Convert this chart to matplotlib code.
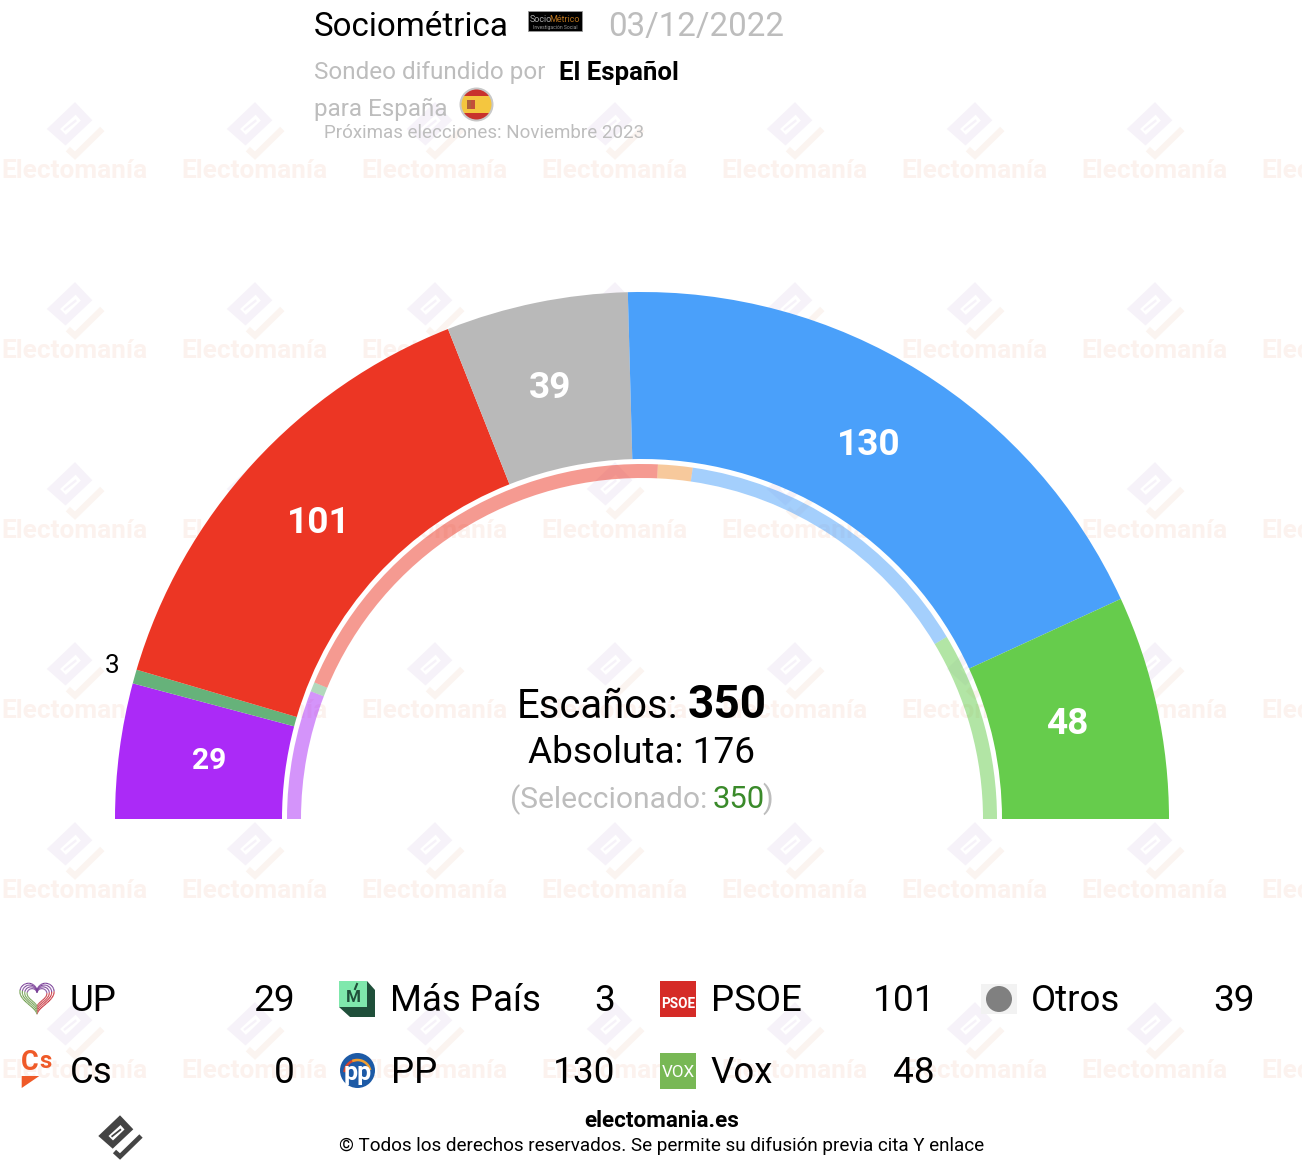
#!/usr/bin/env python
import numpy as np
import matplotlib
matplotlib.use('Agg')
import matplotlib.pyplot as plt
from matplotlib.patches import Circle, Polygon, Rectangle
from matplotlib.collections import LineCollection

plt.rcParams['font.family'] = ['Roboto', 'DejaVu Sans']

# seats, outer arc (left to right)
parties = ['UP', 'Más País', 'PSOE', 'Otros', 'PP', 'Vox']
seats = [29, 3, 101, 39, 130, 48]
colors = ['#ab2af7', '#66b27a', '#ec3624', '#b9b9b9', '#4aa0fa', '#66cc4c']

# inner thin arc
ring_seats = [41, 3, 136, 11, 99, 60]
ring_colors = ['#ab2af7', '#66b27a', '#ec3624', '#f0953a', '#4aa0fa', '#66cc4c']

total_seats = 350
majority = 176
selected = 350

# legend, column by column
legend_names = ['UP', 'Cs', 'Más País', 'PP', 'PSOE', 'Vox', 'Otros']
legend_values = [29, 0, 3, 130, 101, 48, 39]

GREY = '#bdbdbd'
CX, CY = 642, 819

fig = plt.figure(figsize=(13.02, 11.68), dpi=100, facecolor='white')
ax = fig.add_axes([0, 0, 1, 1])


def px(size):
    return size * 0.72


def draw_logo(x, y, scale, body, tick, hole, z):
    pts = np.array([(0, -20.7), (13.3, -6.7), (-7.3, 12.7), (-21.7, 0)]) * scale
    ax.add_patch(Polygon(pts + (x, y), fc=body, ec='none', zorder=z))
    inner = np.array([(0.5, -11), (4.5, -6.5), (-7, 4.5), (-11.5, 0)]) * scale
    ax.add_patch(Polygon(inner + (x, y), fc=hole, ec='none', zorder=z))
    slit = np.array([(0.5, -7.5), (1.5, -6), (-8, 1.5), (-9, 0)]) * scale
    ax.add_patch(Polygon(slit + (x, y), fc=body, ec='none', zorder=z))
    line = np.array([(-5.5, 15.5), (0, 20.5), (21, 0)]) * scale
    ax.plot(line[:, 0] + x, line[:, 1] + y, color=tick, lw=3.4 * scale,
            solid_joinstyle='miter', solid_capstyle='butt', zorder=z)


# background watermark
for wx in range(75, 1400, 180):
    for wy in range(129, 1100, 180):
        draw_logo(wx, wy, 1.3, '#f6f2f9', '#fbf4f0', 'white', 0)
        ax.text(wx - 0.5, wy + 49, 'Electomanía', fontsize=px(26.3), fontweight='bold',
                color='#fcf2ee', ha='center', va='baseline', zorder=0, clip_on=True)

# main arc, the last slice is the hidden lower half
wedges, _ = ax.pie(seats + [total_seats], colors=colors + ['white'], radius=527,
                   center=(CX, CY), startangle=180,
                   wedgeprops=dict(width=167, linewidth=0))
wedges[-1].set_visible(False)

ring, _ = ax.pie(ring_seats + [total_seats], colors=ring_colors + ['white'], radius=355,
                 center=(CX, CY), startangle=180,
                 wedgeprops=dict(width=14, linewidth=0.8, alpha=0.5))
ring[-1].set_visible(False)

ax.set_xlim(0, 1302)
ax.set_ylim(1168, 0)
ax.axis('off')

# seat labels on the arc
ax.text(209, 769, str(seats[0]), color='white', fontsize=px(30), fontweight='bold', ha='center', va='baseline')
ax.text(112, 673, str(seats[1]), color='black', fontsize=px(26), ha='center', va='baseline')
ax.text(318.5, 533, str(seats[2]), color='white', fontsize=px(37), fontweight='bold', ha='center', va='baseline')
ax.text(550.5, 398, str(seats[3]), color='white', fontsize=px(37), fontweight='bold', ha='center', va='baseline')
ax.text(868.5, 455, str(seats[4]), color='white', fontsize=px(37), fontweight='bold', ha='center', va='baseline')
ax.text(1067, 734.5, str(seats[5]), color='white', fontsize=px(37), fontweight='bold', ha='center', va='baseline')

# centre text
ax.text(517, 718, 'Escaños:', fontsize=px(40), ha='left', va='baseline')
ax.text(767, 718, str(total_seats), fontsize=px(46), fontweight='bold', ha='right', va='baseline')
ax.text(642, 763, 'Absoluta: %d' % majority, fontsize=px(37), ha='center', va='baseline')
ax.text(510, 808, '(Seleccionado:', fontsize=px(30), color=GREY, ha='left', va='baseline')
ax.text(713, 808, str(selected), fontsize=px(31), color='#3a8a2a', ha='left', va='baseline')
ax.text(773, 808, ')', fontsize=px(31), color=GREY, ha='right', va='baseline')

# header
ax.text(314, 36, 'Sociométrica', fontsize=px(33.2), ha='left', va='baseline')
ax.text(608, 36, '03/12/2022', fontsize=px(33), color=GREY, ha='left', va='baseline')
ax.text(314, 78.5, 'Sondeo difundido por', fontsize=px(24.3), color=GREY, ha='left', va='baseline')
ax.text(559, 80, 'El Español', fontsize=px(25.8), fontweight='bold', ha='left', va='baseline')
ax.text(314, 116, 'para España', fontsize=px(24.3), color=GREY, ha='left', va='baseline')
ax.text(324, 138, 'Próximas elecciones: Noviembre 2023', fontsize=px(18.8), color=GREY, ha='left', va='baseline')

# pollster logo
ax.add_patch(Rectangle((528, 11), 54, 20, fc='black', ec='#999999', lw=0.6))
ax.text(530, 22, 'Socio', fontsize=px(9), color='#aaaaaa', ha='left', va='baseline')
ax.text(549, 22, 'Métrico', fontsize=px(9), color='#b5701c', ha='left', va='baseline')
ax.text(555, 29, 'Investigación Social', fontsize=px(5), color='#999999', ha='center', va='baseline')

# flag
flag = Circle((476.5, 104.5), 17, fc='#c8c8c8', ec='none')
ax.add_patch(flag)
clip = Circle((476.5, 104.5), 15, transform=ax.transData)
for top, h, col in [(88, 8, '#c8322d'), (96, 17, '#f4c63f'), (113, 9, '#c8322d')]:
    band = Rectangle((460, top), 33, h, fc=col, ec='none')
    ax.add_patch(band)
    band.set_clip_path(clip)
ax.add_patch(Rectangle((467, 100), 4, 9, fc='#b0623a', ec='none'))
ax.add_patch(Rectangle((471, 100), 4, 9, fc='#c2503a', ec='none'))

# legend
col_x = [70, 70, 390.5, 390.5, 710.5, 710.5, 1030.5]
val_x = [295, 295, 615, 615.5, 935, 935, 1255]
row_y = [1011, 1083, 1011, 1083, 1011, 1083, 1011]
for name, val, x0, x1, y in zip(legend_names, legend_values, col_x, val_x, row_y):
    ax.text(x0, y, name, fontsize=px(36.6), ha='left', va='baseline')
    ax.text(x1, y, str(val), fontsize=px(37), ha='right', va='baseline')

# UP heart
t = np.linspace(0, 2 * np.pi, 90)
hx = 16 * np.sin(t) ** 3
hy = -(13 * np.cos(t) - 5 * np.cos(2 * t) - 2 * np.cos(3 * t) - np.cos(4 * t))
for s in [1.07, 0.92, 0.77, 0.62]:
    pts = np.column_stack((37 + hx * s, 996 + hy * s)).reshape(-1, 1, 2)
    segs = np.concatenate([pts[:-1], pts[1:]], axis=1)
    seg_colors = []
    for a, b in zip(hx[:-1], hy[:-1]):
        if b < -5:
            seg_colors.append('#7a3f98')
        elif a > 0:
            seg_colors.append('#c8323c')
        else:
            seg_colors.append('#6f9e4e')
    ax.add_collection(LineCollection(segs, colors=seg_colors, linewidths=0.8))

# Cs
ax.text(21, 1070, 'C', fontsize=px(27), fontweight='bold', color='#ef5a28', ha='left', va='baseline')
ax.text(39, 1068, 's', fontsize=px(24), fontweight='bold', color='#ef5a28', ha='left', va='baseline')
ax.add_patch(Polygon([(21.7, 1076), (39.3, 1076), (21.7, 1088)], fc='#ef5a28', ec='none'))

# Más País
ax.add_patch(Polygon([(367, 981), (375, 990), (375, 1017), (350, 1017), (339, 1007)], fc='#1f4f3a', ec='none'))
ax.add_patch(Rectangle((339, 981), 28, 26, fc='#7fe8ac', ec='none'))
ax.text(353, 1002, 'M', fontsize=px(17), fontweight='bold', color='#1f4f3a', ha='center', va='baseline')
ax.plot([355, 357], [989, 984], color='#1f4f3a', lw=1.5)

# PP
ax.add_patch(Circle((357.5, 1070.5), 17.5, fc='#1d5aa6', ec='none'))
th = np.linspace(np.pi * 1.05, np.pi * 1.45, 15)
ax.plot(357.5 + 13 * np.cos(th), 1073 + 13 * np.sin(th), color='#d8452c', lw=1.8)
th = np.linspace(np.pi * 1.4, np.pi * 1.9, 15)
ax.plot(357.5 + 13 * np.cos(th), 1073 + 13 * np.sin(th), color='#f0a030', lw=1.8)
ax.text(358, 1080, 'pp', fontsize=px(25), fontweight='bold', color='white', ha='center', va='baseline')

# PSOE, Vox, Otros
ax.add_patch(Rectangle((660, 981), 36, 36, fc='#d52b27', ec='none'))
ax.text(678, 1008, 'PSOE', fontsize=px(13.5), fontweight='bold', color='white', ha='center', va='baseline')
ax.add_patch(Rectangle((660, 1053), 36, 36, fc='#78b855', ec='none'))
ax.text(678, 1077, 'VOX', fontsize=px(17), color='white', ha='center', va='baseline')
ax.add_patch(Rectangle((981, 984), 36, 30, fc='#f2f2f2', ec='none'))
ax.add_patch(Circle((999, 999), 13, fc='#808080', ec='none'))

# footer
draw_logo(120, 1136, 1.0, '#444444', '#444444', 'white', 2)
ax.text(661.5, 1127, 'electomania.es', fontsize=px(22.5), fontweight='bold', ha='center', va='baseline')
ax.text(661.5, 1151, '© Todos los derechos reservados. Se permite su difusión previa cita Y enlace',
        fontsize=px(18.9), ha='center', va='baseline')

fig.savefig('out.png', dpi=100, facecolor='white')
